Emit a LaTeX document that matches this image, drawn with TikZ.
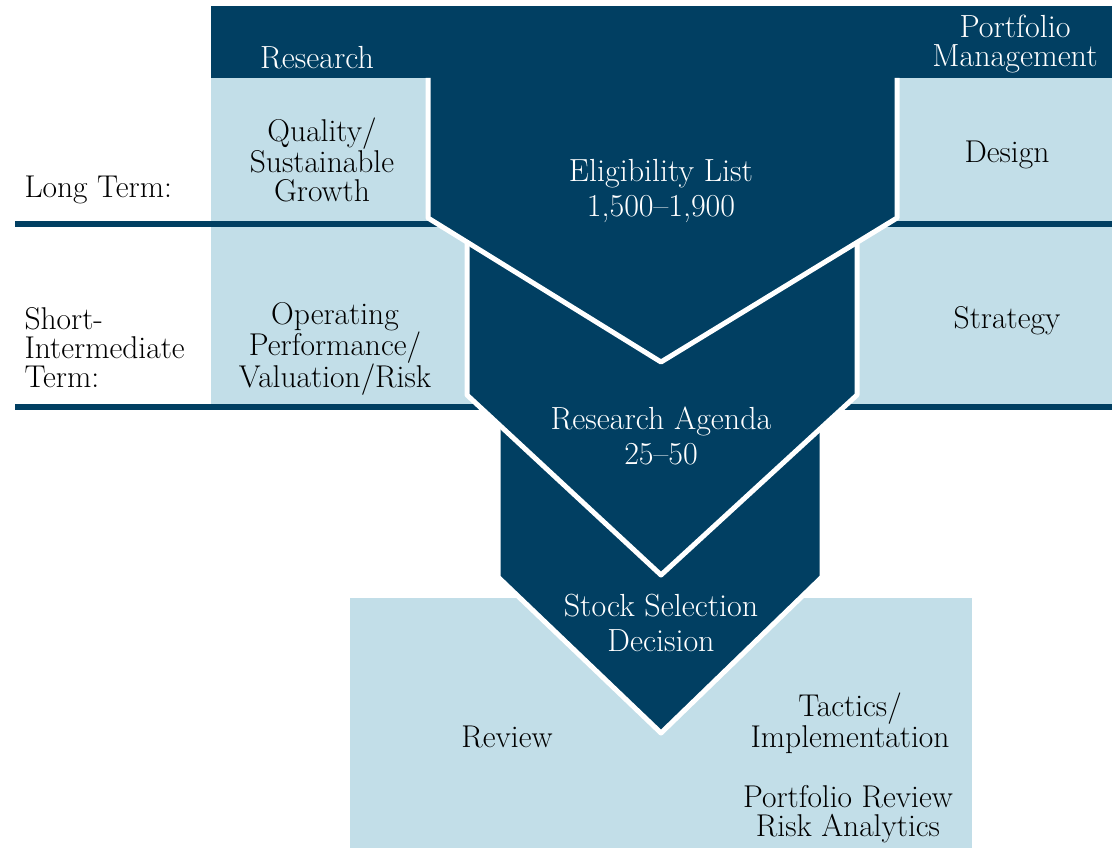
\documentclass[tikz,border=0pt]{standalone}
\usepackage{fontspec}
\definecolor{navy}{RGB}{1,63,98}
\definecolor{pale}{RGB}{194,222,232}
\tikzset{
  rim/.style={draw=white, line width=5pt, line join=round},
  rule/.style={draw=navy, line width=6pt},
  inside/.style={text=white, align=center, font=\fontsize{32}{35.5}\selectfont},
  outside/.style={text=black, align=center, font=\fontsize{31.5}{29}\selectfont}
}
\begin{document}
\begin{tikzpicture}[x=1pt, y=-1pt]
  \useasboundingbox (0,0) rectangle (1118,850);

  \fill [pale] (211,78) rectangle (1112,404);
  \draw [rule] (15,224) -- (1112,224);
  \draw [rule] (15,407) -- (1112,407);
  \fill [navy] (211,6) rectangle (1112,78);
  \fill [pale] (350,598) rectangle (972,848);

  \coordinate (S1) at (498,577);
  \coordinate (S2) at (822,577);
  \coordinate (S) at (661,733);
  \fill [navy] (498,415) -- (661,560) -- (822,415) -- (S2) -- (S) -- (S1) -- cycle;
  \draw [rim] (498,415) -- (S1) -- (S) -- (S2) -- (822,415);

  \coordinate (A1) at (467,395);
  \coordinate (A2) at (857,395);
  \coordinate (A) at (661,575);
  \fill [navy] (467,236) -- (661,350) -- (857,236) -- (A2) -- (A) -- (A1) -- cycle;
  \draw [rim] (467,236) -- (A1) -- (A) -- (A2) -- (857,236);

  \coordinate (E1) at (428,218);
  \coordinate (E2) at (897,218);
  \coordinate (E) at (661,362);
  \fill [navy] (428,78) -- (897,78) -- (E2) -- (E) -- (E1) -- cycle;
  \draw [rim] (428,78) -- (E1) -- (E) -- (E2) -- (897,78);

  \node [inside] (research) at (317,58) {Research};
  \node [inside, font=\fontsize{32}{29}\selectfont] (pm) at (1015,44) {Portfolio\\Management};
  \node [inside] (elig) at (661,191) {Eligibility List\\1,500--1,900};
  \node [inside] (agenda) at (661,436) {Research Agenda\\25--50};
  \node [inside] (selection) at (661,623) {Stock Selection\\Decision};

  \node [outside] (quality) at (322,160) {Quality/\\Sustainable\\Growth};
  \node [outside] (design) at (1007,155) {Design};
  \node [outside, anchor=west] (longterm) at (21,190) {Long Term:};
  \node [outside, align=left, anchor=west] (shortterm) at (21,348) {Short-\\Intermediate\\Term:};
  \node [outside] (operating) at (335,349) {Operating\\Performance/\\Valuation/Risk};
  \node [outside] (strategy) at (1007,321) {Strategy};
  \node [outside] (review) at (507,737) {Review};
  \node [outside] (tactics) at (850,723) {Tactics/\\Implementation};
  \node [outside] (analytics) at (848,814) {Portfolio Review\\Risk Analytics};
\end{tikzpicture}
\end{document}
